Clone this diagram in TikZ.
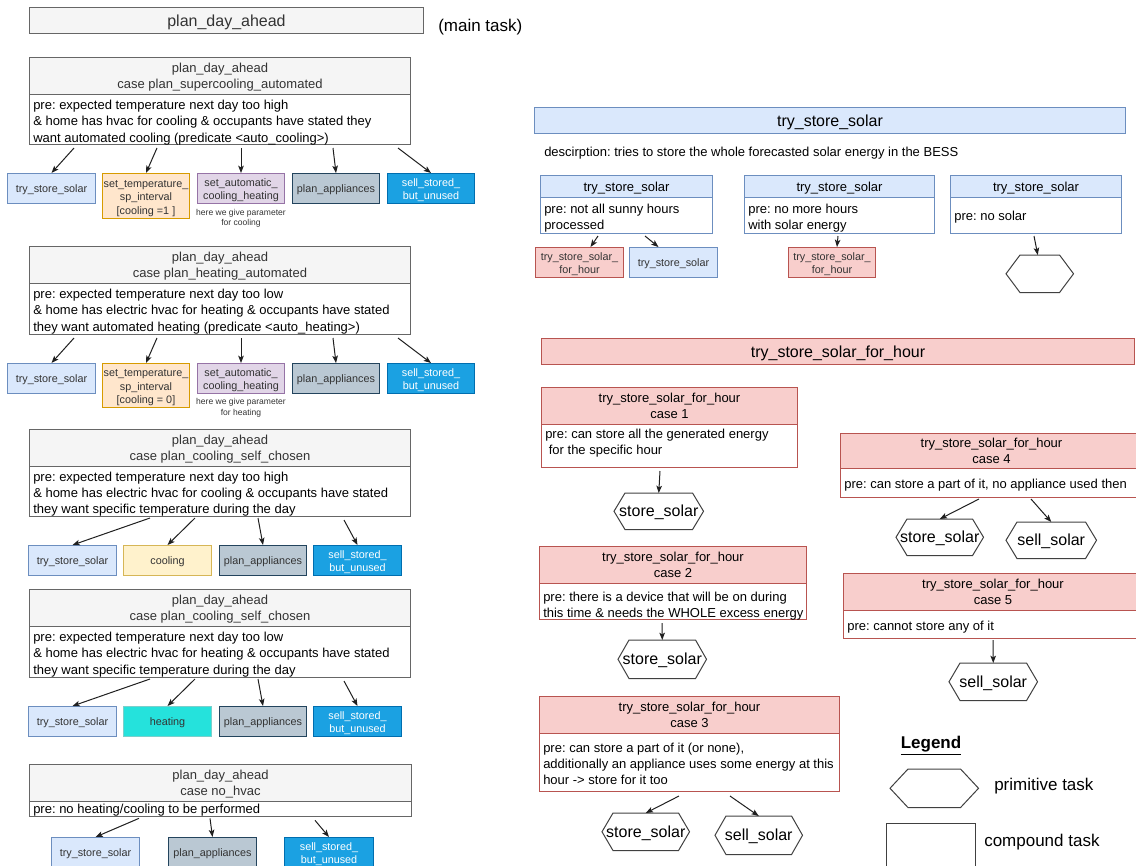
\documentclass[tikz,border=0pt]{standalone}
\usepackage{fontspec}
\setmainfont{Liberation Sans}
\usetikzlibrary{arrows.meta,calc}
\frenchspacing

\definecolor{hdgray}{HTML}{F5F5F5}
\definecolor{hdline}{HTML}{666666}
\definecolor{hdtext}{HTML}{333333}
\definecolor{bluef}{HTML}{DAE8FC}
\definecolor{bluel}{HTML}{6C8EBF}
\definecolor{redf}{HTML}{F8CECC}
\definecolor{redl}{HTML}{B85450}
\definecolor{orgf}{HTML}{FFE6CC}
\definecolor{orgl}{HTML}{D79B00}
\definecolor{purf}{HTML}{E1D5E7}
\definecolor{purl}{HTML}{9673A6}
\definecolor{slatef}{HTML}{BAC8D3}
\definecolor{slatel}{HTML}{23445D}
\definecolor{skyf}{HTML}{1BA1E2}
\definecolor{skyl}{HTML}{006EAF}
\definecolor{yelf}{HTML}{FFF2CC}
\definecolor{yell}{HTML}{D6B656}
\definecolor{cyanf}{HTML}{25E2DC}
\definecolor{cyanl}{HTML}{7ACFCB}
\definecolor{arrowc}{HTML}{1F1F1F}
\definecolor{hexl}{HTML}{404040}

\newcommand\FtTitle{\fontsize{12}{14}\selectfont}
\newcommand\FtMain{\fontsize{9.75}{12.2}\selectfont}
\newcommand\FtHead{\fontsize{9.75}{11.8}\selectfont}
\newcommand\FtChild{\fontsize{8.1}{10.1}\selectfont}
\newcommand\FtNote{\fontsize{6.4}{7.9}\selectfont}
\newcommand\FtHex{\fontsize{12}{14}\selectfont}
\newcommand\FtLeg{\fontsize{12.75}{15}\selectfont}

% hexagon outline around a named node, #2 = horizontal inset of the corners
\newcommand\hexout[2]{%
  \draw[hexline] (#1.west) -- ($(#1.north west)+(#2,0)$) -- ($(#1.north east)+(-#2,0)$)
    -- (#1.east) -- ($(#1.south east)+(-#2,0)$) -- ($(#1.south west)+(#2,0)$) -- cycle;}

\tikzset{
  % full font line height, so single-line text sits on the line box like in the editor export
  every node/.style={execute at begin node={\vrule width 0pt height 0.93em depth 0pt},
                     execute at end node={\vrule width 0pt height 0pt depth 0.22em}},
  sz/.style 2 args={minimum width=#1*0.75pt, minimum height=#2*0.75pt},
  frame/.style={draw, line width=0.75pt, anchor=north west, inner sep=0pt, align=center},
  % two-line headers: fixed text box so the lines sit a little below the middle
  twohead/.style={font=\FtHead, text height=20.8pt, text depth=2pt},
  grayttl/.style={frame, fill=hdgray, draw=hdline, text=hdtext, font=\FtTitle},
  grayhd/.style={frame, fill=hdgray, draw=hdline, text=hdtext, twohead},
  graybd/.style={frame, fill=white, draw=hdline},
  bluettl/.style={frame, fill=bluef, draw=bluel, text=black, font=\FtTitle},
  bluehd/.style={frame, fill=bluef, draw=bluel, text=black, font=\FtMain},
  bluebd/.style={frame, fill=white, draw=bluel},
  redttl/.style={frame, fill=redf, draw=redl, text=black, font=\FtTitle},
  redhd/.style={frame, fill=redf, draw=redl, text=black, twohead},
  redbd/.style={frame, fill=white, draw=redl},
  bodytxt/.style={anchor=west, align=left, inner sep=0pt, font=\FtMain, text=black},
  ch/.style={frame, font=\FtChild, text=hdtext},
  chtwo/.style={text height=18.9pt, text depth=1.7pt},
  chthree/.style={text height=29pt, text depth=1.7pt},
  cblue/.style={ch, fill=bluef, draw=bluel},
  cred/.style={ch, fill=redf, draw=redl},
  corange/.style={ch, fill=orgf, draw=orgl},
  cpurple/.style={ch, fill=purf, draw=purl},
  cslate/.style={ch, fill=slatef, draw=slatel},
  csky/.style={ch, fill=skyf, draw=skyl, text=white},
  cyellow/.style={ch, fill=yelf, draw=yell},
  ccyan/.style={ch, fill=cyanf, draw=cyanl},
  note/.style={align=center, inner sep=0pt, font=\FtNote, text=hdtext},
  hexn/.style={anchor=north west, inner sep=0pt, font=\FtHex, text=black},
  hexline/.style={draw=hexl, line width=0.75pt},
  arr/.style={draw=arrowc, line width=0.75pt, -{Stealth[length=5.5pt, width=4.2pt, inset=1.3pt]}},
}

\begin{document}
\begin{tikzpicture}[x=0.75pt, y=-0.75pt]
\useasboundingbox (0,0) rectangle (1136,865);
\clip (0,0) rectangle (1136,865);

% ---------------- main task ----------------
\node[grayttl, sz={394}{26}] (main) at (29,7) {plan\_day\_ahead};
\node[anchor=west, inner sep=0pt, font=\FtLeg] (maintag) at (438,25) {(main task)};

% ---------------- case plan_supercooling_automated ----------------
\node[grayhd, sz={381}{37}] (b1h) at (29,57) {plan\_day\_ahead\\case plan\_supercooling\_automated};
\node[graybd, sz={381}{50}] (b1b) at (29,94) {};
\node[bodytxt] (b1t) at (33,122.5) {pre: expected temperature next day too high\\\& home has hvac for cooling \& occupants have stated they\\want automated cooling (predicate <auto\_cooling>)};
\node[cblue, sz={88}{30}] (b1c1) at (7,173) {try\_store\_solar};
\node[corange, chthree, sz={87}{45}] (b1c2) at (102,173) {set\_temperature\_\\sp\_interval\\{}[cooling =1 ]};
\node[cpurple, chtwo, sz={87}{30}] (b1c3) at (197,173) {set\_automatic\_\\cooling\_heating};
\node[cslate, sz={87}{30}] (b1c4) at (292,173) {plan\_appliances};
\node[csky, chtwo, sz={87}{30}] (b1c5) at (387,173) {sell\_stored\_\\but\_unused};
\node[note] (b1n) at (241,218.5) {here we give parameter\\for cooling};
\draw[arr] ($(b1b.south west)+(45,3)$) -- (b1c1.north);
\draw[arr] ($(b1b.south west)+(128,3)$) -- (b1c2.north);
\draw[arr] ($(b1b.south west)+(212,3)$) -- (b1c3.north);
\draw[arr] ($(b1b.south west)+(304,3)$) -- (b1c4.north);
\draw[arr] ($(b1b.south west)+(369,3)$) -- (b1c5.north);

% ---------------- case plan_heating_automated ----------------
\node[grayhd, sz={381}{37}] (b2h) at (29,246) {plan\_day\_ahead\\case plan\_heating\_automated};
\node[graybd, sz={381}{51}] (b2b) at (29,283) {};
\node[bodytxt] (b2t) at (33,311.5) {pre: expected temperature next day too low\\\& home has electric hvac for heating \& occupants have stated\\they want automated heating (predicate <auto\_heating>)};
\node[cblue, sz={88}{30}] (b2c1) at (7,363) {try\_store\_solar};
\node[corange, chthree, sz={87}{44}] (b2c2) at (102,363) {set\_temperature\_\\sp\_interval\\{}[cooling = 0]};
\node[cpurple, chtwo, sz={87}{30}] (b2c3) at (197,363) {set\_automatic\_\\cooling\_heating};
\node[cslate, sz={87}{30}] (b2c4) at (292,363) {plan\_appliances};
\node[csky, chtwo, sz={87}{30}] (b2c5) at (387,363) {sell\_stored\_\\but\_unused};
\node[note] (b2n) at (241,408) {here we give parameter\\for heating};
\draw[arr] ($(b2b.south west)+(45,3)$) -- (b2c1.north);
\draw[arr] ($(b2b.south west)+(128,3)$) -- (b2c2.north);
\draw[arr] ($(b2b.south west)+(212,3)$) -- (b2c3.north);
\draw[arr] ($(b2b.south west)+(304,3)$) -- (b2c4.north);
\draw[arr] ($(b2b.south west)+(369,3)$) -- (b2c5.north);

% ---------------- case plan_cooling_self_chosen (cooling) ----------------
\node[grayhd, sz={381}{37}] (b3h) at (29,429) {plan\_day\_ahead\\case plan\_cooling\_self\_chosen};
\node[graybd, sz={381}{50}] (b3b) at (29,466) {};
\node[bodytxt] (b3t) at (33,494) {pre: expected temperature next day too high\\\& home has electric hvac for cooling \& occupants have stated\\they want specific temperature during the day};
\node[cblue, sz={88}{30}] (b3c1) at (28,545) {try\_store\_solar};
\node[cyellow, sz={88}{30}] (b3c2) at (123,545) {cooling};
\node[cslate, sz={87}{30}] (b3c3) at (219,545) {plan\_appliances};
\node[csky, chtwo, sz={88}{30}] (b3c4) at (313,545) {sell\_stored\_\\but\_unused};
\draw[arr] ($(b3b.south west)+(121,1)$) -- (b3c1.north);
\draw[arr] ($(b3b.south west)+(166,1)$) -- (b3c2.north);
\draw[arr] ($(b3b.south west)+(229,1)$) -- (b3c3.north);
\draw[arr] ($(b3b.south west)+(315,3)$) -- (b3c4.north);

% ---------------- case plan_cooling_self_chosen (heating) ----------------
\node[grayhd, sz={381}{37}] (b4h) at (29,589) {plan\_day\_ahead\\case plan\_cooling\_self\_chosen};
\node[graybd, sz={381}{51}] (b4b) at (29,626) {};
\node[bodytxt] (b4t) at (33,654.5) {pre: expected temperature next day too low\\\& home has electric hvac for heating \& occupants have stated\\they want specific temperature during the day};
\node[cblue, sz={88}{30}] (b4c1) at (28,706) {try\_store\_solar};
\node[ccyan, sz={88}{30}] (b4c2) at (123,706) {heating};
\node[cslate, sz={87}{30}] (b4c3) at (219,706) {plan\_appliances};
\node[csky, chtwo, sz={88}{30}] (b4c4) at (313,706) {sell\_stored\_\\but\_unused};
\draw[arr] ($(b4b.south west)+(121,1)$) -- (b4c1.north);
\draw[arr] ($(b4b.south west)+(166,1)$) -- (b4c2.north);
\draw[arr] ($(b4b.south west)+(229,1)$) -- (b4c3.north);
\draw[arr] ($(b4b.south west)+(315,3)$) -- (b4c4.north);

% ---------------- case no_hvac ----------------
\node[grayhd, sz={382}{37}] (b5h) at (29,764) {plan\_day\_ahead\\case no\_hvac};
\node[graybd, sz={382}{14}] (b5b) at (29,801) {};
\node[bodytxt] (b5t) at (33,809) {pre: no heating/cooling to be performed};
\node[cblue, sz={88}{30}] (b5c1) at (51,837) {try\_store\_solar};
\node[cslate, sz={88}{30}] (b5c2) at (168,837) {plan\_appliances};
\node[csky, chtwo, sz={89}{30}] (b5c3) at (284,837) {sell\_stored\_\\but\_unused};
\draw[arr] ($(b5b.south west)+(110,1)$) -- (b5c1.north);
\draw[arr] ($(b5b.south west)+(181,1)$) -- (b5c2.north);
\draw[arr] ($(b5b.south west)+(286,3)$) -- (b5c3.north);

% ---------------- try_store_solar ----------------
\node[bluettl, sz={591}{26}] (tss) at (534,107) {try\_store\_solar};
\node[anchor=west, inner sep=0pt, font=\FtMain] (tssd) at (544,152) {descirption: tries to store the whole forecasted solar energy in the BESS};

\node[bluehd, sz={172}{22}] (tsaH) at (540,175) {try\_store\_solar};
\node[bluebd, sz={172}{36}] (tsaB) at (540,197) {};
\node[bodytxt] (tsaT) at (544,218) {pre: not all sunny hours\\processed};
\node[bluehd, sz={190}{22}] (tsbH) at (744,175) {try\_store\_solar};
\node[bluebd, sz={190}{36}] (tsbB) at (744,197) {};
\node[bodytxt] (tsbT) at (748,218) {pre: no more hours\\with solar energy};
\node[bluehd, sz={171}{22}] (tscH) at (950,175) {try\_store\_solar};
\node[bluebd, sz={171}{36}] (tscB) at (950,197) {};
\node[bodytxt] (tscT) at (954,216) {pre: no solar};

\node[cred, chtwo, sz={88}{30}] (tsa1) at (535,247) {try\_store\_solar\_\\for\_hour};
\node[cblue, sz={88}{30}] (tsa2) at (629,247) {try\_store\_solar};
\node[cred, chtwo, sz={87}{30}] (tsb1) at (788,247) {try\_store\_solar\_\\for\_hour};
\node[hexn, sz={67}{37}] (tsc1) at (1006,255) {};
\hexout{tsc1}{14}
\draw[arr] ($(tsaB.south west)+(58,2)$) -- ($(tsa1.north)+(11,0)$);
\draw[arr] ($(tsaB.south west)+(105,2)$) -- ($(tsa2.north)+(-15,0)$);
\draw[arr] ($(tsbB.south west)+(94,2)$) -- ($(tsb1.north)+(5,0)$);
\draw[arr] ($(tscB.south west)+(84,2)$) -- ($(tsc1.north)+(-2,0)$);

% ---------------- try_store_solar_for_hour ----------------
\node[redttl, sz={593}{26}] (tsh) at (541,338) {try\_store\_solar\_for\_hour};

% case 1
\node[redhd, sz={256}{37}] (k1H) at (541,387) {try\_store\_solar\_for\_hour\\case 1};
\node[redbd, sz={256}{43}] (k1B) at (541,424) {};
\node[bodytxt] (k1T) at (545,443) {pre: can store all the generated energy\\~for the specific hour};
\node[hexn, sz={89}{36}] (k1x) at (614,493) {store\_solar};
\hexout{k1x}{11}
\draw[arr] ($(k1B.south west)+(119,3)$) -- (k1x.north);

% case 2
\node[redhd, sz={267}{37}] (k2H) at (539,546) {try\_store\_solar\_for\_hour\\case 2};
\node[redbd, sz={267}{36}] (k2B) at (539,583) {};
\node[bodytxt] (k2T) at (543,606) {pre: there is a device that will be on during\\this time \& needs the WHOLE excess energy};
\node[hexn, sz={88}{38}] (k2x) at (618,640) {store\_solar};
\hexout{k2x}{11}
\draw[arr] ($(k2B.south west)+(123,3)$) -- (k2x.north);

% case 3
\node[redhd, sz={300}{37}] (k3H) at (539,696) {try\_store\_solar\_for\_hour\\case 3};
\node[redbd, sz={300}{58}] (k3B) at (539,733) {};
\node[bodytxt] (k3T) at (543,765) {pre: can store a part of it (or none),\\additionally an appliance uses some energy at this\\hour -> store for it too};
\node[hexn, sz={87}{37}] (k3x) at (602,813) {store\_solar};
\hexout{k3x}{11}
\node[hexn, sz={87}{38}] (k3y) at (715,816) {sell\_solar};
\hexout{k3y}{11}
\draw[arr] ($(k3B.south west)+(140,4)$) -- (k3x.north);
\draw[arr] ($(k3B.south west)+(191,4)$) -- (k3y.north);

% case 4
\node[redhd, sz={302}{35}] (k4H) at (840,433) {try\_store\_solar\_for\_hour\\case 4};
\node[redbd, sz={302}{29}] (k4B) at (840,468) {};
\node[bodytxt] (k4T) at (844,484) {pre: can store a part of it, no appliance used then};
\node[hexn, sz={87}{36}] (k4x) at (896,519) {store\_solar};
\hexout{k4x}{11}
\node[hexn, sz={90}{36}] (k4y) at (1006,522) {sell\_solar};
\hexout{k4y}{11}
\draw[arr] ($(k4B.south west)+(139,1)$) -- (k4x.north);
\draw[arr] ($(k4B.south west)+(191,1)$) -- (k4y.north);

% case 5
\node[redhd, sz={299}{37}] (k5H) at (843,573) {try\_store\_solar\_for\_hour\\case 5};
\node[redbd, sz={299}{28}] (k5B) at (843,610) {};
\node[bodytxt] (k5T) at (847,626) {pre: cannot store any of it};
\node[hexn, sz={88}{37}] (k5x) at (949,663) {sell\_solar};
\hexout{k5x}{11}
\draw[arr] ($(k5B.south west)+(150,1)$) -- (k5x.north);

% ---------------- legend ----------------
\node[inner sep=0pt, font=\FtLeg\bfseries] (legt) at (931,744) {\underline{Legend}};
\node[hexn, sz={88}{38}] (legh) at (890,769) {};
\hexout{legh}{18}
\node[anchor=west, inner sep=0pt, font=\FtLeg] (leght) at (994,784) {primitive task};
\node[frame, draw=hexl, sz={89}{47}] (legr) at (886,823) {};
\node[anchor=west, inner sep=0pt, font=\FtLeg] (legrt) at (984,840) {compound task};

\end{tikzpicture}
\end{document}
